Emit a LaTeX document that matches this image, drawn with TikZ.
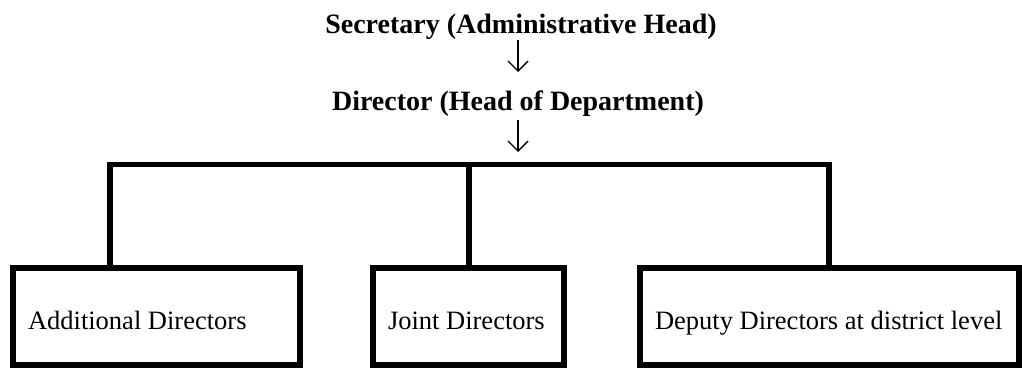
\documentclass[tikz,border=0pt]{standalone}
\usepackage{fontspec}
\setmainfont{Liberation Serif}
\usetikzlibrary{arrows.meta}
\newcommand{\boxtext}[2]{\makebox[#1][l]{#2}}
\begin{document}
\begin{tikzpicture}[x=1pt,y=1pt,
  head/.style={font=\fontsize{28}{32}\selectfont\bfseries, inner sep=0pt, anchor=base},
  orgbox/.style={draw, line width=5.5pt, outer sep=0pt, inner xsep=15pt, inner ysep=0pt,
    minimum height=97pt, anchor=north west, text height=25pt, text depth=0pt,
    font=\fontsize{26.5}{30}\selectfont},
  conn/.style={line width=5.5pt, line join=miter},
  arr/.style={line width=1.4pt, -{Straight Barb[length=10pt,width=20pt,line width=1.4pt]}}]
\useasboundingbox (0,0) rectangle (1022,368);
% headings
\node[head] (sec) at (521,335) {Secretary (Administrative Head)};
\node[head] (dir) at (518,258) {Director (Head of Department)};
% boxes
\node[orgbox] (add) at (13,100) {\boxtext{257pt}{Additional Directors}};
\node[orgbox] (joint) at (373,100) {\boxtext{161pt}{Joint Directors}};
\node[orgbox] (dep) at (640,100) {\boxtext{349pt}{Deputy Directors at district level}};
% bus coordinates
\coordinate (bl) at (110,203.5);
\coordinate (bm) at (469,203.5);
\coordinate (br) at (829,203.5);
\coordinate (hub) at (518,203.5);
% arrows
\draw[arr] ([xshift=-3pt,yshift=-7pt]sec.base) -- ([yshift=38pt]dir.base);
\draw[arr] ([yshift=-10pt]dir.base) -- ([yshift=12.5pt]hub);
% connectors
\draw[conn] (bl |- add.north) -- (bl) -- (br) -- (br |- dep.north);
\draw[conn] (bm) -- (bm |- joint.north);
\end{tikzpicture}
\end{document}
